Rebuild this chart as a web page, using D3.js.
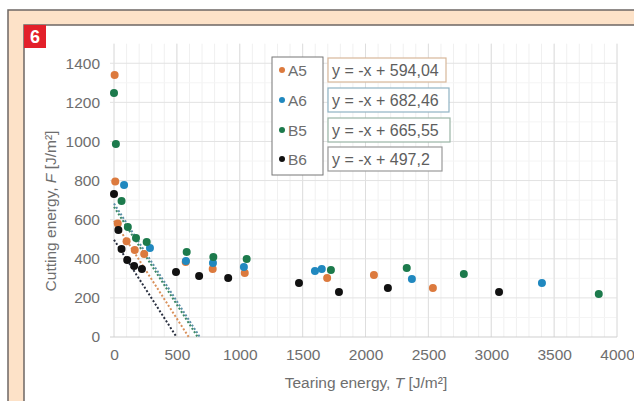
<!DOCTYPE html>
<html lang="en">
  <head>
    <meta charset="utf-8">
    <title>Cutting vs tearing energy</title>
    <script src="https://cdn.jsdelivr.net/npm/d3@7"></script>
    <style>
      body { margin: 0; background: #fff; }
      text { font-family: "Liberation Sans", Arial, sans-serif; }
    </style>
  </head>
  <body>
    <svg width="634" height="401" id="mainsvg"></svg>
    <script>
      // data: [tearing energy T, cutting energy F]
      const seriesNames = ['A5', 'A6', 'B5', 'B6'];
      const a5 = [[5, 1340], [10, 795], [30, 580], [100, 490], [165, 445], [240, 425],
        [570, 383], [785, 348], [1040, 327], [1695, 302], [2067, 317], [2536, 251]];
      const a6 = [[80, 777], [286, 455], [572, 389], [787, 378], [1033, 358],
        [1598, 338], [1652, 348], [2369, 297], [3403, 276]];
      const b5 = [[0, 1248], [15, 987], [60, 696], [110, 563], [175, 506], [260, 486],
        [578, 435], [790, 409], [1055, 399], [1725, 343], [2328, 353], [2782, 322], [3855, 220]];
      const b6 = [[0, 731], [35, 547], [60, 450], [105, 394], [160, 363], [222, 348],
        [493, 333], [677, 312], [908, 302], [1471, 276], [1789, 230], [2178, 251], [3062, 230]];
      const trendC = [594.04, 682.46, 665.55, 497.2];
      const eqLabels = ['y = -x + 594,04', 'y = -x + 682,46', 'y = -x + 665,55', 'y = -x + 497,2'];
      const xTicks = [0, 500, 1000, 1500, 2000, 2500, 3000, 3500, 4000];
      const yTicks = [0, 200, 400, 600, 800, 1000, 1200, 1400];

      const colors = ['#dc7a3e', '#2088bf', '#1c7a4c', '#111111'];
      const lineColors = ['#d9905a', '#5b8fa8', '#3d8a66', '#2a3040'];
      const boxColors = ['#d7b79a', '#8fb3c4', '#9ab5a6', '#999999'];
      const allSeries = [a5, a6, b5, b6];

      const svg = d3.select('#mainsvg');

      // frame
      svg.append('rect').attr('x', 8).attr('y', 10).attr('width', 640).attr('height', 400)
        .attr('fill', '#fde2c8').attr('stroke', '#6d6764').attr('stroke-width', 1.5);
      svg.append('rect').attr('x', 24).attr('y', 25).attr('width', 620).attr('height', 390)
        .attr('fill', '#fff').attr('stroke', '#6d6764').attr('stroke-width', 1.5);

      // badge
      svg.append('rect').attr('x', 24).attr('y', 25).attr('width', 22).attr('height', 23).attr('fill', '#e3202a');
      svg.append('text').attr('x', 35).attr('y', 43).attr('text-anchor', 'middle')
        .attr('fill', '#fff').attr('font-size', 18).attr('font-weight', 'bold').text('6');

      // scales
      const x = d3.scaleLinear().domain([0, 4000]).range([114, 617]);
      const y = d3.scaleLinear().domain([0, 1500]).range([337, 43.7]);

      const g = svg.append('g');
      // minor grid
      g.selectAll('.vminor').data(d3.range(0, 4001, 100)).join('line')
        .attr('x1', d => x(d)).attr('x2', d => x(d)).attr('y1', y(1500)).attr('y2', y(0))
        .attr('stroke', '#f0f0f0').attr('stroke-width', 1);
      g.selectAll('.hminor').data(d3.range(100, 1500, 200)).join('line')
        .attr('x1', x(0)).attr('x2', x(4000)).attr('y1', d => y(d)).attr('y2', d => y(d))
        .attr('stroke', '#f4f4f4').attr('stroke-width', 1);
      // major grid
      g.selectAll('.vmajor').data(xTicks).join('line')
        .attr('x1', d => x(d)).attr('x2', d => x(d)).attr('y1', y(1500)).attr('y2', y(0))
        .attr('stroke', '#dedede').attr('stroke-width', 1);
      g.selectAll('.hmajor').data(yTicks).join('line')
        .attr('x1', x(0) - 4).attr('x2', x(4000)).attr('y1', d => y(d)).attr('y2', d => y(d))
        .attr('stroke', d => d === 0 ? '#cfcfcf' : '#e2e2e2').attr('stroke-width', 1);

      // axes (labels only)
      const xAxis = d3.axisBottom(x).tickValues(xTicks).tickFormat(d3.format('d')).tickSize(0).tickPadding(12);
      const gx = svg.append('g').attr('transform', `translate(0, ${y(0)})`).call(xAxis);
      const yAxis = d3.axisLeft(y).tickValues(yTicks).tickFormat(d3.format('d')).tickSize(0).tickPadding(14);
      const gy = svg.append('g').attr('transform', `translate(${x(0)}, 0)`).call(yAxis);
      [gx, gy].forEach(a => {
        a.select('.domain').remove();
        a.selectAll('.tick text').attr('fill', '#6e6e6e').attr('font-size', 15.5)
          .attr('font-family', '"Liberation Sans", Arial, sans-serif');
      });

      // axis titles
      const xt = svg.append('text').attr('x', 366).attr('y', 388).attr('text-anchor', 'middle')
        .attr('fill', '#6e6e6e').attr('font-size', 15.5);
      xt.append('tspan').text('Tearing energy, ');
      xt.append('tspan').attr('font-style', 'italic').text('T');
      xt.append('tspan').text(' [J/m²]');
      const yt = svg.append('text').attr('transform', 'translate(56, 211) rotate(-90)')
        .attr('text-anchor', 'middle').attr('fill', '#6e6e6e').attr('font-size', 15.5);
      yt.append('tspan').text('Cutting energy, ');
      yt.append('tspan').attr('font-style', 'italic').text('F');
      yt.append('tspan').text(' [J/m²]');

      // trend lines
      trendC.forEach((c, i) => {
        svg.append('line')
          .attr('x1', x(0)).attr('y1', y(c)).attr('x2', x(c)).attr('y2', y(0))
          .attr('stroke', lineColors[i]).attr('stroke-width', 2)
          .attr('stroke-dasharray', '2,2');
      });

      // points
      allSeries.forEach((s, i) => {
        svg.append('g').selectAll('circle').data(s).join('circle')
          .attr('cx', d => x(d[0])).attr('cy', d => y(d[1])).attr('r', 4)
          .attr('fill', colors[i]);
      });

      // legend
      const legY = [70, 100, 130, 159];
      svg.append('rect').attr('x', 272).attr('y', 57).attr('width', 51).attr('height', 118)
        .attr('fill', '#fff').attr('stroke', '#777').attr('stroke-width', 1);
      seriesNames.forEach((n, i) => {
        svg.append('circle').attr('cx', 282).attr('cy', legY[i]).attr('r', 3).attr('fill', colors[i]);
        svg.append('text').attr('x', 288).attr('y', legY[i] + 5.5).attr('fill', '#6e6e6e')
          .attr('font-size', 15.5).text(n);
      });
      const boxW = [118, 121, 122, 114];
      eqLabels.forEach((t, i) => {
        svg.append('rect').attr('x', 328).attr('y', legY[i] - 12).attr('width', boxW[i]).attr('height', 24)
          .attr('fill', '#fff').attr('stroke', boxColors[i]).attr('stroke-width', 1.2);
        svg.append('text').attr('x', 332).attr('y', legY[i] + 5.5).attr('fill', '#5e5e5e')
          .attr('font-size', 16).text(t);
      });
    </script>
  </body>
</html>
